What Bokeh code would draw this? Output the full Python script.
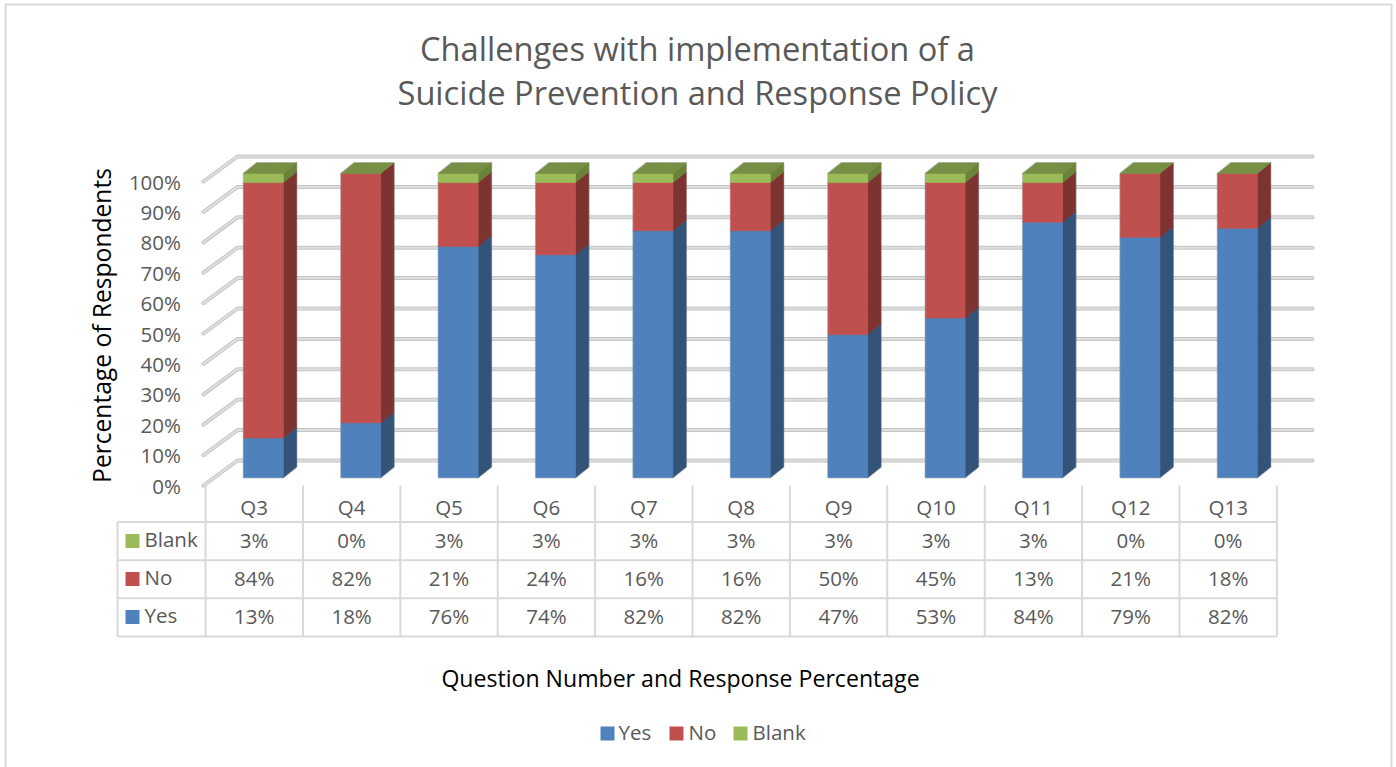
from bokeh.plotting import figure
from bokeh.models import FixedTicker, PrintfTickFormatter, Range1d
from bokeh.core.properties import value
from bokeh.embed import file_html
from bokeh.resources import INLINE

questions = ["Q3", "Q4", "Q5", "Q6", "Q7", "Q8", "Q9", "Q10", "Q11", "Q12", "Q13"]
yes = [13, 18, 76, 74, 82, 82, 47, 53, 84, 79, 82]
no = [84, 82, 21, 24, 16, 16, 50, 45, 13, 21, 18]
blank = [3, 0, 3, 3, 3, 3, 3, 3, 3, 0, 0]
y_ticks = [0, 10, 20, 30, 40, 50, 60, 70, 80, 90, 100]
series = [("Yes", yes), ("No", no), ("Blank", blank)]

FRONT = {"Yes": "#4F81BD", "No": "#C0504D", "Blank": "#9BBB59"}
SIDE = {"Yes": "#335379", "No": "#7D3330", "Blank": "#6A8339"}
TOP = "#768F44"
FONT = "Open Sans"
GREY = "#595959"
W, H = 1396, 767
TXT = "20.5px"

X0, XU = 205.0, 97.4      # pixel of category edge 0, pixels per category
Y0, YU = 485.0, 3.04      # pixel of 0 %, pixels per percent


def dx(px):
    return (px - X0) / XU


def dy(py):
    return (Y0 - py) / YU


p = figure(width=W, height=H, output_backend="svg", toolbar_location=None,
           x_range=Range1d(dx(0), dx(W)), y_range=Range1d(dy(H), dy(0)),
           min_border=0, outline_line_color=None,
           background_fill_color="white", border_fill_color="white")
p.grid.visible = False

# axes fixed inside the frame
ax = p.xaxis[0]
ax.fixed_location = dy(486)
ax.ticker = FixedTicker(ticks=[i + 0.5 for i in range(len(questions))])
ax.major_label_overrides = {i + 0.5: q for i, q in enumerate(questions)}
ax.axis_line_color = None
ax.major_tick_line_color = None
ax.minor_tick_line_color = None
ax.major_label_standoff = 0
ax.major_label_text_font = FONT
ax.major_label_text_font_size = TXT
ax.major_label_text_color = GREY

ay = p.yaxis[0]
ay.fixed_location = dx(190.5)
ay.ticker = FixedTicker(ticks=y_ticks)
ay.formatter = PrintfTickFormatter(format="%d%%")
ay.axis_line_color = None
ay.major_tick_line_color = None
ay.minor_tick_line_color = None
ay.major_label_standoff = 4
ay.major_label_text_font = FONT
ay.major_label_text_font_size = TXT
ay.major_label_text_color = GREY

# outer border
p.line([dx(5), dx(5), dx(1391), dx(1391)], [dy(H + 5), dy(4), dy(4), dy(H + 5)],
       line_color="#D9D9D9", line_width=2)

# 3-D gridlines: front corner -> back wall -> right end
DX_WALL, DY_WALL = 34 / XU, 25 / YU
gx_front, gx_back, gx_end = dx(203), dx(203) + DX_WALL, dx(1312)
grid_xs = [[gx_front, gx_back, gx_end] for _ in y_ticks]
grid_ys = [[t, t + DY_WALL, t + DY_WALL] for t in y_ticks]
p.multi_line(grid_xs, grid_ys, line_color="#C6C6C6", line_width=4, line_join="round", line_cap="round")
p.multi_line(grid_xs, grid_ys, line_color="#DEDEDE", line_width=2, line_join="round", line_cap="round")

# bars
BAR_W = 39.6 / XU
BAR_SHIFT_X, BAR_SHIFT_Y = 9.3 / XU, 8 / YU
DEP_X, DEP_Y = 13.2 / XU, 10.6 / YU
face_xs, face_ys, face_c = [], [], []
for i in range(len(questions)):
    total = sum(vals[i] for _, vals in series)
    left = i + 0.5 + BAR_SHIFT_X - BAR_W / 2
    right = left + BAR_W
    base = 0.0
    for name, vals in series:
        top = base + vals[i] * 100.0 / total
        y1, y2 = base + BAR_SHIFT_Y, top + BAR_SHIFT_Y
        if vals[i] > 0:
            face_xs.append([right, right + DEP_X, right + DEP_X, right])
            face_ys.append([y1, y1 + DEP_Y, y2 + DEP_Y, y2])
            face_c.append(SIDE[name])
            face_xs.append([left, right, right, left])
            face_ys.append([y1, y1, y2, y2])
            face_c.append(FRONT[name])
        base = top
    yt = base + BAR_SHIFT_Y
    face_xs.append([left, right, right + DEP_X, left + DEP_X])
    face_ys.append([yt, yt, yt + DEP_Y, yt + DEP_Y])
    face_c.append(TOP)
p.patches(face_xs, face_ys, fill_color=None, line_color="#8C8C8C", line_alpha=0.45, line_width=2)
p.patches(face_xs, face_ys, fill_color=face_c, line_color=face_c, line_width=0.6)

# data table grid
row_tops = [521.5, 559.7, 597.7, 636]
n = len(questions)
seg = []
for py in row_tops:
    seg.append((dx(117), dy(py), float(n), dy(py)))
seg.append((dx(117), dy(row_tops[0]), dx(117), dy(row_tops[-1])))
for i in range(n + 1):
    seg.append((float(i), dy(485), float(i), dy(row_tops[-1])))
p.segment([s[0] for s in seg], [s[1] for s in seg], [s[2] for s in seg], [s[3] for s in seg],
          line_color="#D9D9D9", line_width=2)

# table values and keys
row_mid = {"Blank": 540.5, "No": 578.5, "Yes": 616.5}
txt_x, txt_y, txt = [], [], []
for name, vals in series:
    for i, v in enumerate(vals):
        txt_x.append(i + 0.5)
        txt_y.append(dy(row_mid[name] - 1.5))
        txt.append(f"{v}%")
p.text(txt_x, txt_y, text=txt, text_font=value(FONT), text_font_size=TXT, text_color=GREY,
       text_align="center", text_baseline="middle")
names = [s[0] for s in series]
p.rect([dx(132)] * 3, [dy(row_mid[k]) for k in names], width=14 / XU, height=14 / YU,
       fill_color=[FRONT[k] for k in names], line_color=None)
p.text([dx(144)] * 3, [dy(row_mid[k] - 2) for k in names], text=names, text_font=value(FONT),
       text_font_size=TXT, text_color=GREY, text_align="left", text_baseline="middle")

# legend
leg_key = [607, 676, 740]
leg_txt = [618, 688, 752]
p.rect([dx(k) for k in leg_key], [dy(733)] * 3, width=14 / XU, height=14 / YU,
       fill_color=[FRONT[k] for k in names], line_color=None)
p.text([dx(k) for k in leg_txt], [dy(731.5)] * 3, text=names, text_font=value(FONT),
       text_font_size=TXT, text_color=GREY, text_align="left", text_baseline="middle")

# titles
p.text([dx(697), dx(697)], [dy(47.5), dy(91.5)],
       text=["Challenges with implementation of a", "Suicide Prevention and Response Policy"],
       text_font=value(FONT), text_font_size="32.6px", text_color=GREY,
       text_align="center", text_baseline="middle")
p.text([dx(680)], [dy(677)], text=["Question Number and Response Percentage"],
       text_font=value(FONT), text_font_size="23.1px", text_color="black",
       text_align="center", text_baseline="middle")
p.text([dx(101)], [dy(325)], text=["Percentage of Respondents"], angle=1.5708,
       text_font=value(FONT), text_font_size="24.6px", text_color="black",
       text_align="center", text_baseline="middle")

open("out.html", "w").write(file_html(p, INLINE))
